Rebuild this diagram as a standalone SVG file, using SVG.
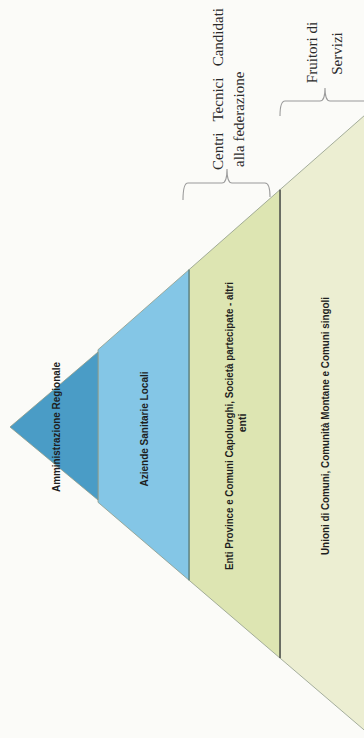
<svg xmlns="http://www.w3.org/2000/svg" width="364" height="738" viewBox="0 0 364 738">
<style>
.lvl{font-family:"Liberation Sans",Arial,sans-serif;font-weight:bold;font-size:10.5px;fill:#1e1e1e;text-anchor:middle}
.lbl{font-family:"Liberation Serif","Times New Roman",serif;font-size:15px;fill:#2a2a2a}
.brace{fill:none;stroke:#9a9a9a;stroke-width:1.1}
.edge{stroke:#8f9a88;stroke-width:0.8}
</style>
<rect x="0" y="0" width="364" height="738" fill="#fbfbf8"/>
<g id="level4">
<polygon points="280,189.7 370,110.6 370,735 280,658.1" fill="#eceed2" class="edge"/>
<text class="lvl" transform="translate(329,426) rotate(-90)" textLength="258" lengthAdjust="spacingAndGlyphs">Unioni di Comuni, Comunità Montane e Comuni singoli</text>
</g>
<g id="level3">
<polygon points="189,269.7 280,189.7 280,658.1 189,580.2" fill="#dde5b2" class="edge"/>
<line x1="280" y1="189.7" x2="280" y2="658.1" stroke="#3a3a3a" stroke-width="1.2"/>
<text class="lvl" transform="translate(233,426) rotate(-90)" textLength="288" lengthAdjust="spacingAndGlyphs">Enti Province e Comuni Capoluoghi, Società partecipate - altri</text>
<text class="lvl" transform="translate(246,423) rotate(-90)">enti</text>
</g>
<g id="level2">
<polygon points="98,349.7 189,269.7 189,580.2 98,502.3" fill="#84c6e6" class="edge"/>
<line x1="189" y1="269.7" x2="189" y2="580.2" stroke="#3d6f78" stroke-width="0.9"/>
<text class="lvl" transform="translate(148,429) rotate(-90)" textLength="115" lengthAdjust="spacingAndGlyphs">Aziende Sanitarie Locali</text>
</g>
<g id="level1">
<polygon points="10,427 98,352 98,500" fill="#4a9cc6" class="edge"/>
<text class="lvl" transform="translate(60,427) rotate(-90)" textLength="130" lengthAdjust="spacingAndGlyphs">Amministrazione Regionale</text>
</g>
<g id="label-centri">
<text class="lbl" transform="translate(223,170) rotate(-90)" word-spacing="7.5">Centri Tecnici Candidati</text>
<text class="lbl" transform="translate(244,167) rotate(-90)">alla federazione</text>
</g>
<g id="label-fruitori">
<text class="lbl" transform="translate(317,52.5) rotate(-90)" text-anchor="middle">Fruitori di</text>
<text class="lbl" transform="translate(342,53.5) rotate(-90)" text-anchor="middle">Servizi</text>
</g>
<g id="connectors">
<path class="brace" d="M183,200 Q183,183 188,183 L222,183 Q227,183 227,169 Q227,183 232,183 L265,183 Q270,183 270,197"/>
<path class="brace" d="M280,116 Q280,101 285,101 L320,101 Q325,101 325,88 Q325,101 330,101 L365,101 Q370,101 370,116"/>
</g>
</svg>
